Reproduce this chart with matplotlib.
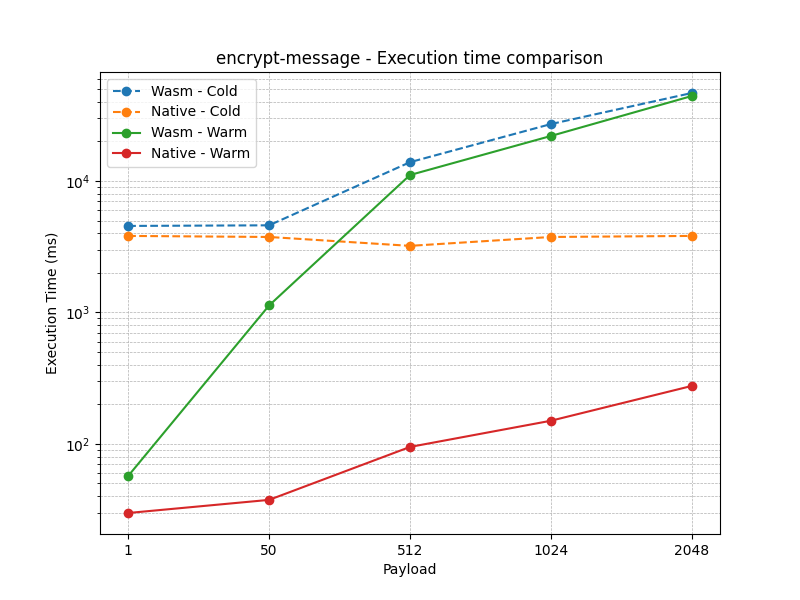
import matplotlib
matplotlib.use("Agg")
import matplotlib.pyplot as plt

payloads = ["1", "50", "512", "1024", "2048"]
wasm_cold = [4550, 4600, 13900, 27100, 46700]
native_cold = [3820, 3750, 3210, 3750, 3820]
wasm_warm = [57, 1130, 11100, 22000, 44300]
native_warm = [29.8, 37.5, 94.8, 150, 276]

fig, ax = plt.subplots(figsize=(8, 6), dpi=100)

ax.plot(payloads, wasm_cold, marker="o", linestyle="--", label="Wasm - Cold")
ax.plot(payloads, native_cold, marker="o", linestyle="--", label="Native - Cold")
ax.plot(payloads, wasm_warm, marker="o", linestyle="-", label="Wasm - Warm")
ax.plot(payloads, native_warm, marker="o", linestyle="-", label="Native - Warm")

ax.set_yscale("log")
ax.set_title("encrypt-message - Execution time comparison")
ax.set_xlabel("Payload")
ax.set_ylabel("Execution Time (ms)")
ax.grid(True, which="both", linestyle="--", linewidth=0.5)
ax.legend(loc="upper left")

fig.savefig("out.png")
